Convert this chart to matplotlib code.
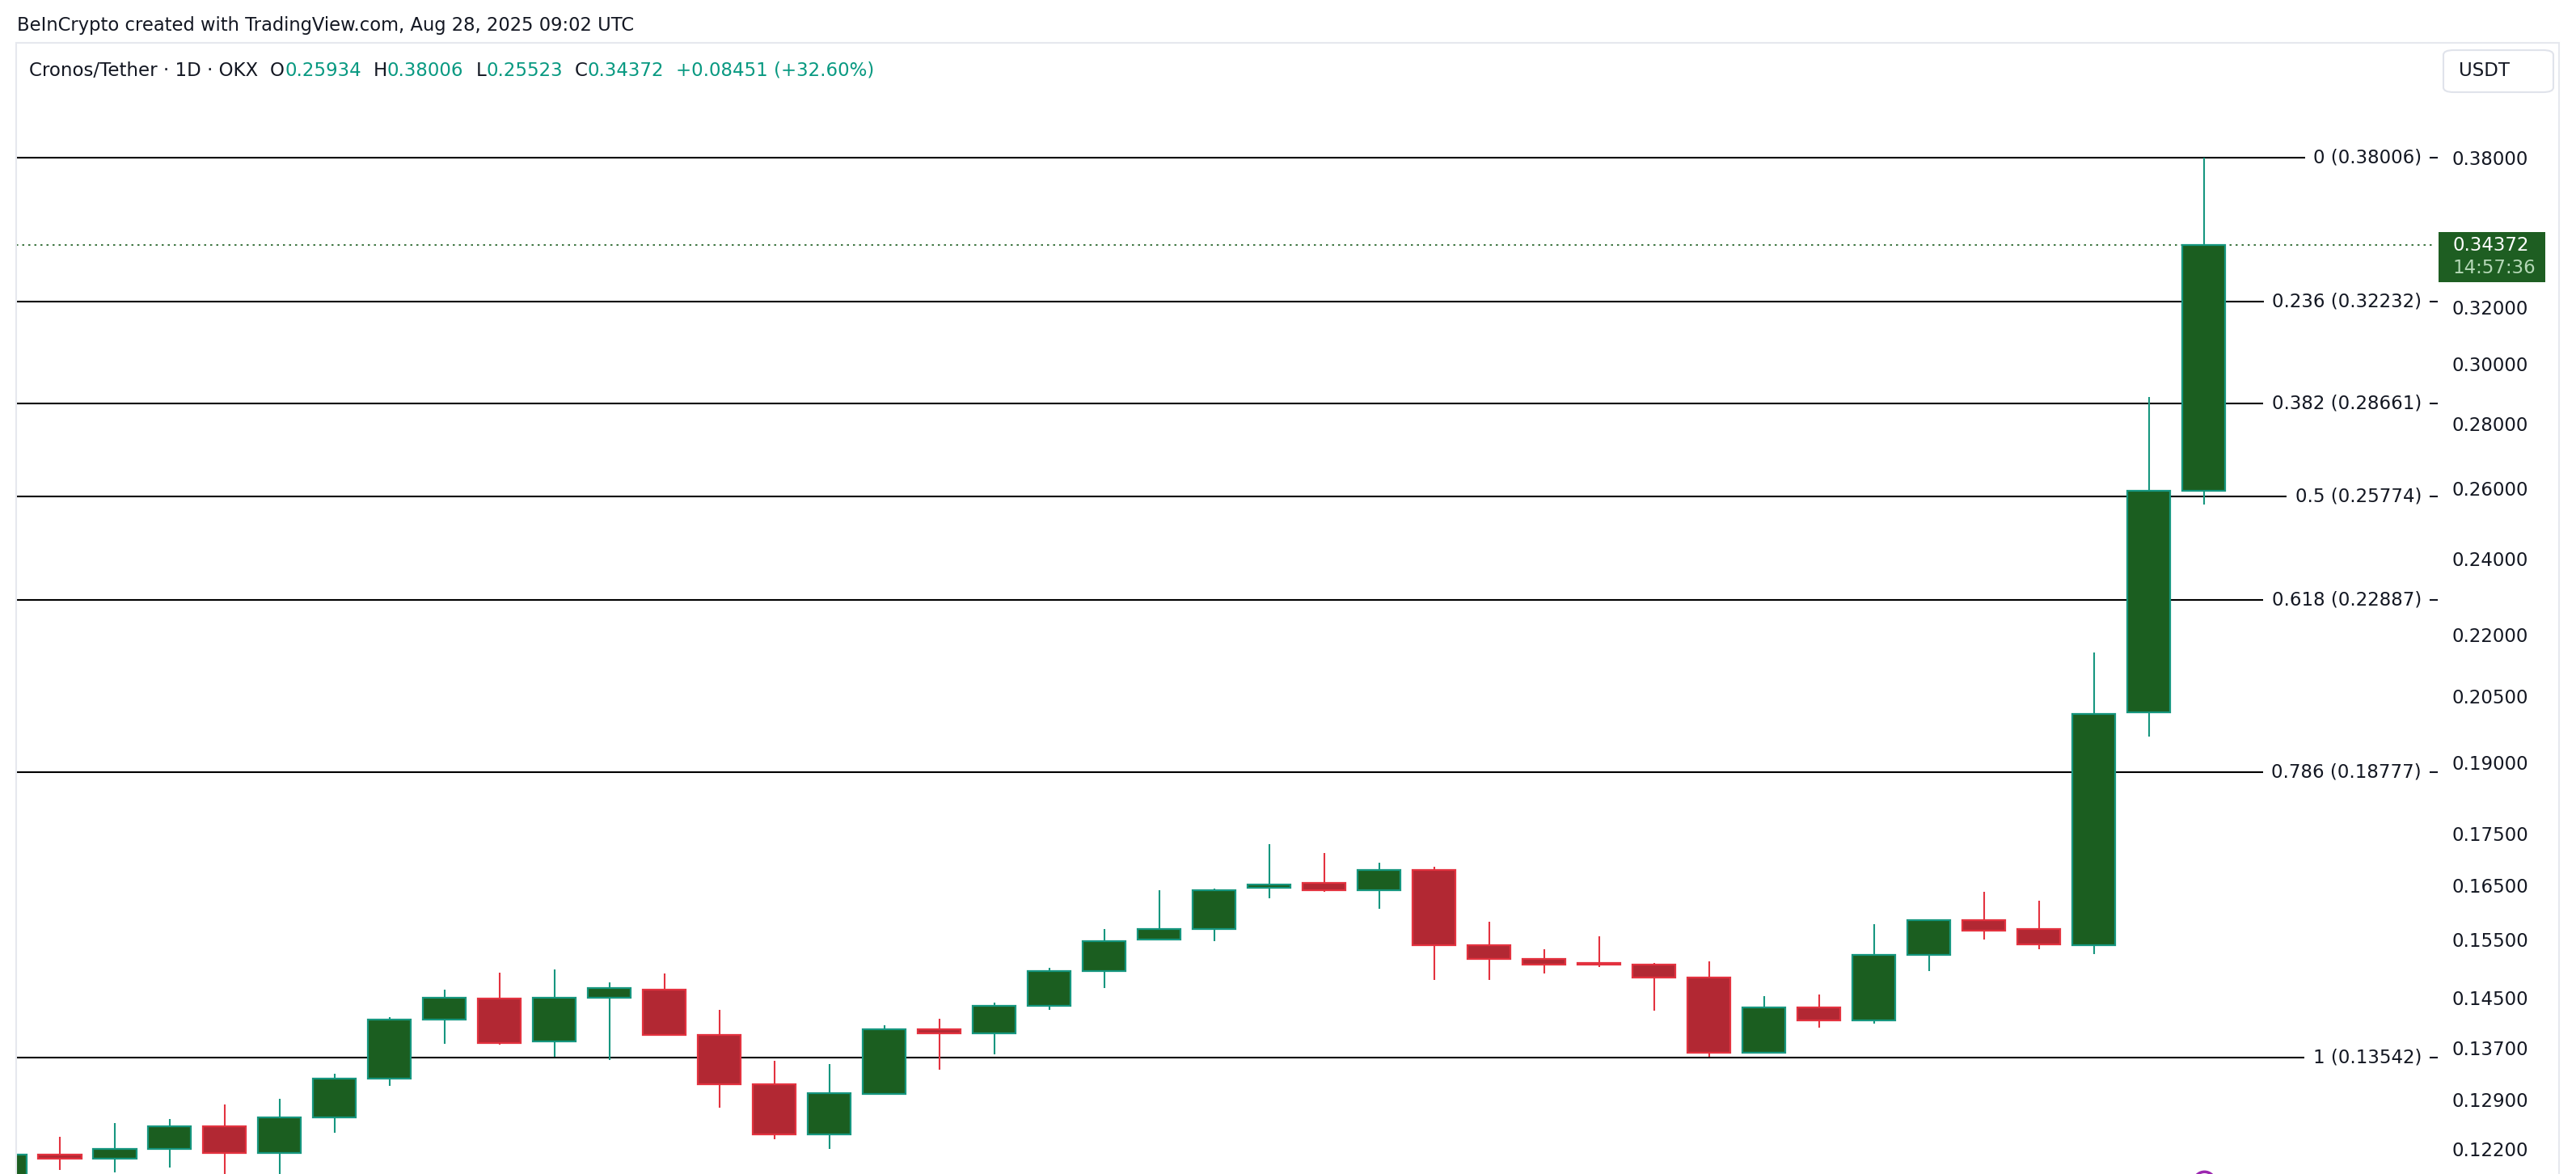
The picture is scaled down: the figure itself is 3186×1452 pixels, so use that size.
import numpy as np
import matplotlib.pyplot as plt
from matplotlib import transforms
from matplotlib.patches import Rectangle, FancyBboxPatch

# daily candles, CRO/USDT (OKX), oldest first
opens  = [0.1175, 0.1212, 0.1206, 0.1220, 0.1252, 0.1214, 0.1265, 0.1322, 0.1414, 0.1449,
          0.1380, 0.1451, 0.1464, 0.1390, 0.1313, 0.1240, 0.1299, 0.1399, 0.1393, 0.1437,
          0.1495, 0.1550, 0.1569, 0.1646, 0.1654, 0.1641, 0.1679, 0.1540, 0.1516, 0.1509,
          0.1506, 0.1484, 0.1362, 0.1435, 0.1413, 0.1523, 0.1585, 0.1569, 0.1540, 0.2012,
          0.25934]
highs  = [0.1215, 0.1237, 0.1256, 0.1262, 0.1283, 0.1292, 0.1329, 0.1418, 0.1464, 0.1493,
          0.1498, 0.1476, 0.1491, 0.1431, 0.1349, 0.1344, 0.1405, 0.1416, 0.1442, 0.1501,
          0.1569, 0.1641, 0.1644, 0.1730, 0.1713, 0.1694, 0.1686, 0.1582, 0.1533, 0.1556,
          0.1509, 0.1512, 0.1453, 0.1456, 0.1578, 0.1586, 0.1637, 0.1621, 0.2155, 0.2888,
          0.38006]
lows   = [0.1160, 0.1191, 0.1187, 0.1194, 0.1180, 0.1180, 0.1242, 0.1311, 0.1376, 0.1374,
          0.1356, 0.1351, 0.1388, 0.1279, 0.1233, 0.1219, 0.1299, 0.1336, 0.1359, 0.1431,
          0.1466, 0.1550, 0.1547, 0.1625, 0.1637, 0.1606, 0.1480, 0.1480, 0.1491, 0.1503,
          0.1429, 0.1356, 0.1362, 0.1402, 0.1408, 0.1495, 0.1550, 0.1533, 0.1525, 0.1957,
          0.25523]
closes = [0.1212, 0.1206, 0.1220, 0.1252, 0.1214, 0.1265, 0.1322, 0.1414, 0.1450, 0.1377,
          0.1451, 0.1466, 0.1390, 0.1313, 0.1240, 0.1300, 0.1399, 0.1393, 0.1437, 0.1495,
          0.1547, 0.1569, 0.1641, 0.1651, 0.1641, 0.1679, 0.1540, 0.1516, 0.1507, 0.1507,
          0.1484, 0.1362, 0.1435, 0.1413, 0.1524, 0.1585, 0.1567, 0.1542, 0.2008, 0.25934,
          0.34372]

fib_ratios = ['0', '0.236', '0.382', '0.5', '0.618', '0.786', '1']
fib_prices = [0.38006, 0.32232, 0.28661, 0.25774, 0.22887, 0.18777, 0.13542]

price_ticks = [0.38, 0.32, 0.30, 0.28, 0.26, 0.24, 0.22, 0.205, 0.19,
               0.175, 0.165, 0.155, 0.145, 0.137, 0.129, 0.122]

last_price = 0.34372
countdown = '14:57:36'

header = 'BeInCrypto created with TradingView.com, Aug 28, 2025 09:02 UTC'
legend_parts = [('Cronos/Tether · 1D · OKX', 'k'), ('O', 'k'), ('0.25934', 'g'),
                ('H', 'k'), ('0.38006', 'g'), ('L', 'k'), ('0.25523', 'g'),
                ('C', 'k'), ('0.34372', 'g'), ('+0.08451 (+32.60%)', 'g')]

# colours
GREEN_FILL = '#1B5E20'
GREEN_EDGE = '#16967F'
RED_FILL = '#B22833'
RED_EDGE = '#E3323F'
TXT = '#131722'
TEAL = '#089981'

W, H = 3186, 1452
FS = 16.5

fig = plt.figure(figsize=(W / 100, H / 100), dpi=100)
fig.patch.set_facecolor('white')

# chart pane: x 20..3010 px, y 53..bottom
ax = fig.add_axes([20 / W, 0, 2990 / W, (H - 53) / H])
ax.set_yscale('log')

o = np.array(opens)
h = np.array(highs)
l = np.array(lows)
c = np.array(closes)
x = np.arange(len(o))
up = c >= o

wick_col = np.where(up, GREEN_EDGE, RED_EDGE)
fill_col = np.where(up, GREEN_FILL, RED_FILL)
edge_col = np.where(up, GREEN_EDGE, RED_EDGE)

ax.vlines(x, l, h, colors=wick_col, lw=1.5, zorder=2)
ax.bar(x, np.abs(c - o), bottom=np.minimum(o, c), width=0.78,
       color=fill_col, edgecolor=edge_col, linewidth=1.6, zorder=3)

ylo, yhi = 0.1185, 0.4335
ax.set_ylim(ylo, yhi)
ax.set_xlim(0.206, 44.18)

trans = transforms.blended_transform_factory(ax.transAxes, ax.transData)

# fibonacci retracement levels
for r, p in zip(fib_ratios, fib_prices):
    ax.axhline(p, xmin=0, xmax=0.995, color='black', lw=1.5, zorder=1)
    ax.text(0.995, p, f'{r} ({p:.5f})', transform=trans, ha='right', va='center',
            fontsize=FS, color=TXT, zorder=4,
            bbox=dict(boxstyle='square,pad=0.45', fc='white', ec='none'))
    ax.plot([0.9987, 1.0012], [p, p], transform=trans, color=TXT, lw=1.5,
            clip_on=False, zorder=4)

# last price line + label box
ax.axhline(last_price, color=GREEN_FILL, lw=1.2, ls=(0, (1.5, 3)), zorder=1)
k = ax.get_position().height * H / np.log(yhi / ylo)
y0 = last_price * np.exp(-46 / k)
y1 = last_price * np.exp(16 / k)
ax.add_patch(Rectangle((1.002, y0), 132 / 2990, y1 - y0, transform=trans,
                       fc='#1E5E22', ec='none', clip_on=False, zorder=5))
ax.text(1.0077, last_price, f'{last_price:.5f}', transform=trans, color='white',
        ha='left', va='center', fontsize=FS, zorder=6)
ax.annotate(countdown, xy=(1.0077, last_price), xycoords=trans, xytext=(0, -28),
            textcoords='offset pixels', color='#B5D8B7', ha='left', va='center',
            fontsize=FS, zorder=6, annotation_clip=False)

# event marker peeking in at the bottom
ax.plot([40], [ylo * np.exp(-10 / k)], marker='o', ms=19, mfc='white',
        mec='#9C27B0', mew=2.5, clip_on=False, zorder=6)

# price scale
ax.yaxis.tick_right()
ax.set_yticks(price_ticks)
ax.set_yticklabels([f'{t:.5f}' for t in price_ticks])
ax.minorticks_off()
ax.tick_params(axis='y', length=0, pad=16.5, labelsize=FS, labelcolor=TXT)
ax.set_xticks([])
for s in ax.spines.values():
    s.set_visible(False)
ax.set_ylim(ylo, yhi)
ax.set_xlim(0.206, 44.18)

# pane border
fig.add_artist(Rectangle((20 / W, -0.01), (3165 - 20) / W, (H - 53) / H + 0.01,
                         transform=fig.transFigure, fill=False, ec='#E6E8EE', lw=1.5))

# USDT box
fig.add_artist(FancyBboxPatch((3022 / W, 1 - 114 / H), 136 / W, 52 / H,
                              boxstyle='round,pad=0,rounding_size=0.004',
                              transform=fig.transFigure, fc='white', ec='#E0E3EB', lw=1.5))
fig.text(3041 / W, 1 - 88 / H, 'USDT', ha='left', va='center', fontsize=FS, color=TXT)

# header
fig.text(21 / W, 1 - 38 / H, header, ha='left', va='baseline', fontsize=16.3, color=TXT)

# OHLC legend, pieces chained one after another on a shared baseline
base_y = 1 - 94 / H
prev = fig.text(36 / W, base_y, legend_parts[0][0], ha='left', va='baseline',
                fontsize=FS, color=TXT)
for i, (txt, kind) in enumerate(legend_parts[1:]):
    # value sticks to its letter, everything else gets a gap
    gap = 0 if (kind == 'g' and legend_parts[i][1] == 'k') else 15
    prev = ax.annotate(txt, xy=(1, base_y), xycoords=(prev, 'figure fraction'),
                       xytext=(gap, 0), textcoords='offset pixels', ha='left',
                       va='baseline', fontsize=FS, color=TEAL if kind == 'g' else TXT,
                       annotation_clip=False)

fig.savefig('out.png', dpi=100, facecolor='white')
